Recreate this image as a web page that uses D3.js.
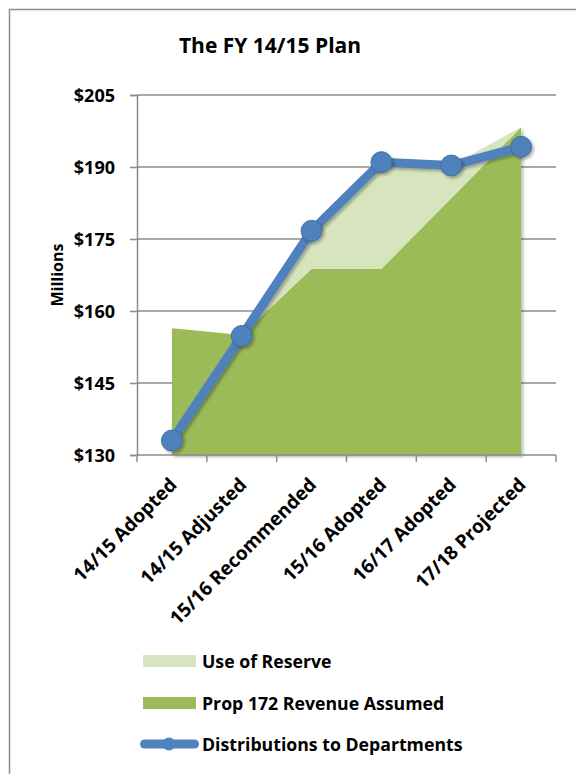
<!DOCTYPE html>
<html lang="en">
<head>
  <meta charset="UTF-8">
  <title>The FY 14/15 Plan</title>
  <style>
    body {
      margin: 0;
      background: white;
    }
    #chart text {
      font-family: "Open Sans", sans-serif;
      font-weight: bold;
      fill: black;
    }
    .grid line {
      stroke: #8c8c8c;
      stroke-width: 1.5;
    }
    .axis path,
    .axis line {
      fill: none;
      stroke: #8c8c8c;
      stroke-width: 1.5;
    }
  </style>
</head>
<body>
  <div id="chart"></div>

  <script src="https://d3js.org/d3.v7.min.js"></script>
  <script>
    // data (millions of dollars)
    const categories = ['14/15 Adopted', '14/15 Adjusted', '15/16 Recommended',
                        '15/16 Adopted', '16/17 Adopted', '17/18 Projected'];
    const prop172 = [156.4, 155.0, 168.8, 168.8, 183.5, 198.3];
    const reserve = [0, 0, 7.9, 22.2, 6.8, 0];
    const distributions = [133.0, 154.8, 176.7, 191.0, 190.3, 194.2];
    const yTicks = [130, 145, 160, 175, 190, 205];
    const legendNames = ['Use of Reserve', 'Prop 172 Revenue Assumed', 'Distributions to Departments'];

    const W = 576, H = 774;
    const plotL = 137, plotR = 556, plotT = 95, plotB = 455;

    const svg = d3.select('#chart').append('svg')
      .attr('width', W)
      .attr('height', H);

    // drop shadow like the spreadsheet effect
    const defs = svg.append('defs');
    const f = defs.append('filter').attr('id', 'shadow')
      .attr('x', '-30%').attr('y', '-30%').attr('width', '160%').attr('height', '160%');
    f.append('feDropShadow')
      .attr('dx', 2).attr('dy', 2).attr('stdDeviation', 1.5)
      .attr('flood-color', '#000').attr('flood-opacity', 0.3);

    // outer chart frame (runs off the page right and bottom)
    svg.append('rect')
      .attr('x', 9.5).attr('y', 9.5)
      .attr('width', 620).attr('height', 820)
      .attr('fill', 'none')
      .attr('stroke', '#8c8c8c')
      .attr('stroke-width', 1.5);

    svg.append('text')
      .attr('x', 270).attr('y', 53)
      .attr('text-anchor', 'middle')
      .style('font-size', '21px')
      .text('The FY 14/15 Plan');

    const x = d3.scaleBand()
      .domain(categories)
      .range([plotL, plotR]);
    const cx = d => x(d) + x.bandwidth() / 2;

    const y = d3.scaleLinear()
      .domain([130, 205])
      .range([plotB, plotT]);

    // gridlines
    svg.append('g')
      .attr('class', 'grid')
      .selectAll('line')
      .data(yTicks.slice(1))
      .enter()
      .append('line')
      .attr('x1', plotL).attr('x2', plotR)
      .attr('y1', d => y(d)).attr('y2', d => y(d));

    // stacked areas
    const rows = categories.map((c, i) => ({ cat: c, p: prop172[i], r: reserve[i] }));

    const reserveArea = d3.area()
      .x(d => cx(d.cat))
      .y0(d => y(d.p))
      .y1(d => y(d.p + d.r));
    const propArea = d3.area()
      .x(d => cx(d.cat))
      .y0(y(130))
      .y1(d => y(d.p));

    svg.append('path')
      .datum(rows)
      .attr('d', propArea)
      .attr('fill', '#9bbb59')
      .attr('filter', 'url(#shadow)');
    svg.append('path')
      .datum(rows)
      .attr('d', reserveArea)
      .attr('fill', '#d7e4bd');

    // axes
    svg.append('g')
      .attr('class', 'axis')
      .attr('transform', 'translate(' + plotL + ',0)')
      .call(d3.axisLeft(y).tickValues(yTicks).tickSize(7).tickFormat(''));

    const xAxis = svg.append('g')
      .attr('class', 'axis')
      .attr('transform', 'translate(0,' + plotB + ')')
      .call(d3.axisBottom(x).tickSize(0).tickFormat(''));
    xAxis.select('.domain').attr('d', 'M' + plotL + ',0H' + plotR);
    xAxis.selectAll('.bnd')
      .data(d3.range(categories.length + 1))
      .enter()
      .append('line')
      .attr('x1', i => plotL + i * x.bandwidth())
      .attr('x2', i => plotL + i * x.bandwidth())
      .attr('y1', 0).attr('y2', 7);

    // y labels
    svg.append('g')
      .selectAll('text')
      .data(yTicks)
      .enter()
      .append('text')
      .attr('x', 115)
      .attr('y', d => y(d) + 6.5)
      .attr('text-anchor', 'end')
      .style('font-size', '18px')
      .text(d => '$' + d);

    svg.append('text')
      .attr('transform', 'translate(63,275) rotate(-90)')
      .attr('text-anchor', 'middle')
      .style('font-size', '16px')
      .text('Millions');

    // x labels
    svg.append('g')
      .selectAll('text')
      .data(categories)
      .enter()
      .append('text')
      .attr('transform', d => 'translate(' + (cx(d) + 6) + ',' + 486 + ') rotate(-45)')
      .attr('text-anchor', 'end')
      .style('font-size', '19px')
      .text(d => d);

    // line series
    const line = d3.line()
      .x((d, i) => cx(categories[i]))
      .y(d => y(d));

    svg.append('path')
      .datum(distributions)
      .attr('d', line)
      .attr('fill', 'none')
      .attr('stroke', '#4f81bd')
      .attr('stroke-width', 9)
      .attr('stroke-linejoin', 'round')
      .attr('filter', 'url(#shadow)');

    svg.append('g')
      .selectAll('circle')
      .data(distributions)
      .enter()
      .append('circle')
      .attr('cx', (d, i) => cx(categories[i]))
      .attr('cy', d => y(d))
      .attr('r', 10.5)
      .attr('fill', '#4f81bd')
      .attr('stroke', '#41709f')
      .attr('stroke-width', 1)
      .attr('filter', 'url(#shadow)');

    // legend
    const lg = svg.append('g');
    const legendY = [661, 703, 744];

    lg.append('rect')
      .attr('x', 143).attr('y', legendY[0] - 6)
      .attr('width', 53).attr('height', 12)
      .attr('fill', '#d7e4bd');
    lg.append('rect')
      .attr('x', 143).attr('y', legendY[1] - 6)
      .attr('width', 53).attr('height', 12)
      .attr('fill', '#9bbb59');
    lg.append('line')
      .attr('x1', 144.5).attr('x2', 194.5)
      .attr('y1', legendY[2]).attr('y2', legendY[2])
      .attr('stroke', '#4f81bd')
      .attr('stroke-width', 9)
      .attr('stroke-linecap', 'round');
    lg.append('circle')
      .attr('cx', 169).attr('cy', legendY[2])
      .attr('r', 6.5)
      .attr('fill', '#4f81bd');

    lg.selectAll('text')
      .data(legendNames)
      .enter()
      .append('text')
      .attr('x', 202)
      .attr('y', (d, i) => legendY[i] + 6.5)
      .style('font-size', '17.7px')
      .text(d => d);
  </script>
</body>
</html>
